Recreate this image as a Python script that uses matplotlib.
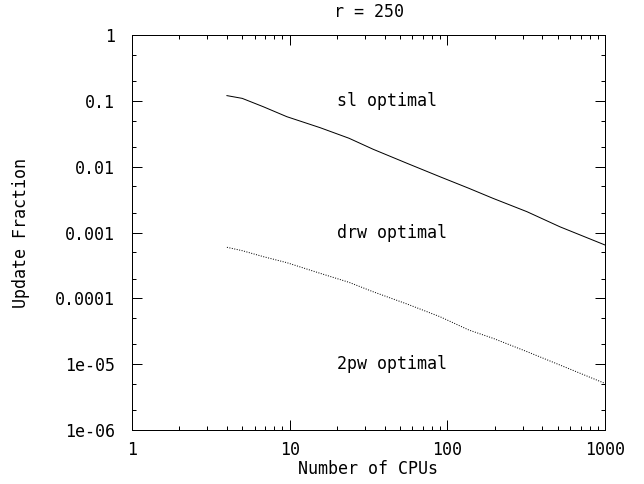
import numpy as np
import matplotlib
matplotlib.use('Agg')
import matplotlib.pyplot as plt
from matplotlib.ticker import FixedLocator, LogLocator, NullFormatter

# CPU counts and update fractions for the two crossover curves
cpus = [4, 5, 6.8, 9.6, 15.6, 23.8, 33.8, 55.5, 89.8, 137, 195, 320, 518, 1000]
sl_drw = [0.12, 0.109, 0.0814, 0.0574, 0.0391, 0.027, 0.0184, 0.01125,
          0.00703, 0.00469, 0.0033, 0.00207, 0.00122, 0.000646]
drw_2pw = [5.96e-4, 5.3e-4, 4.3e-4, 3.48e-4, 2.4e-4, 1.75e-4, 1.26e-4,
           8.2e-5, 5.26e-5, 3.3e-5, 2.47e-5, 1.55e-5, 9.7e-6, 5.1e-6]

xticks = [1, 10, 100, 1000]
xticklabels = ['1', '10', '100', '1000']
yticks = [1e-6, 1e-5, 1e-4, 1e-3, 1e-2, 1e-1, 1]
yticklabels = ['1e-06', '1e-05', '0.0001', '0.001', '0.01', '0.1', '1']

regions = ['sl optimal', 'drw optimal', '2pw optimal']
region_y = [0.1, 0.001, 1e-5]

plt.rcParams['font.family'] = ['DejaVu Sans Mono']
plt.rcParams['font.size'] = 12

f = plt.figure(figsize=(6.44, 4.84), dpi=100)
s = f.add_axes([132/644., 54/484., 473/644., 395/484.])

s.plot(cpus, sl_drw, '-', c='k', lw=0.72)
s.plot(cpus, drw_2pw, c='k', lw=0.72, ls=(0, (1, 1.5)))

for txt, yv in zip(regions, region_y):
    s.text(20, yv, txt, ha='left', va='center', fontsize=12)

s.set_xscale('log')
s.set_yscale('log')
s.set_xlim(1, 1000)
s.set_ylim(1e-6, 1)

s.xaxis.set_major_locator(FixedLocator(xticks))
s.set_xticklabels(xticklabels)
s.xaxis.set_minor_locator(LogLocator(base=10, subs=np.arange(2, 10)))
s.xaxis.set_minor_formatter(NullFormatter())
s.yaxis.set_major_locator(FixedLocator(yticks))
s.set_yticklabels(yticklabels)
s.yaxis.set_minor_locator(LogLocator(base=10, subs=(2, 5)))
s.yaxis.set_minor_formatter(NullFormatter())

s.tick_params(which='both', direction='in', top=True, right=True,
              width=0.72, labelsize=12)
s.tick_params(which='major', length=7)
s.tick_params(which='minor', length=3.2)
s.tick_params(axis='x', which='major', pad=8)
s.tick_params(axis='y', which='major', pad=12)
for sp in s.spines.values():
    sp.set_linewidth(0.72)

s.set_title('r = 250', fontsize=12, pad=13)
s.set_xlabel('Number of CPUs', fontsize=12, labelpad=1)
s.set_ylabel('Update Fraction', fontsize=12, labelpad=18)

f.savefig('out.png', dpi=100)
